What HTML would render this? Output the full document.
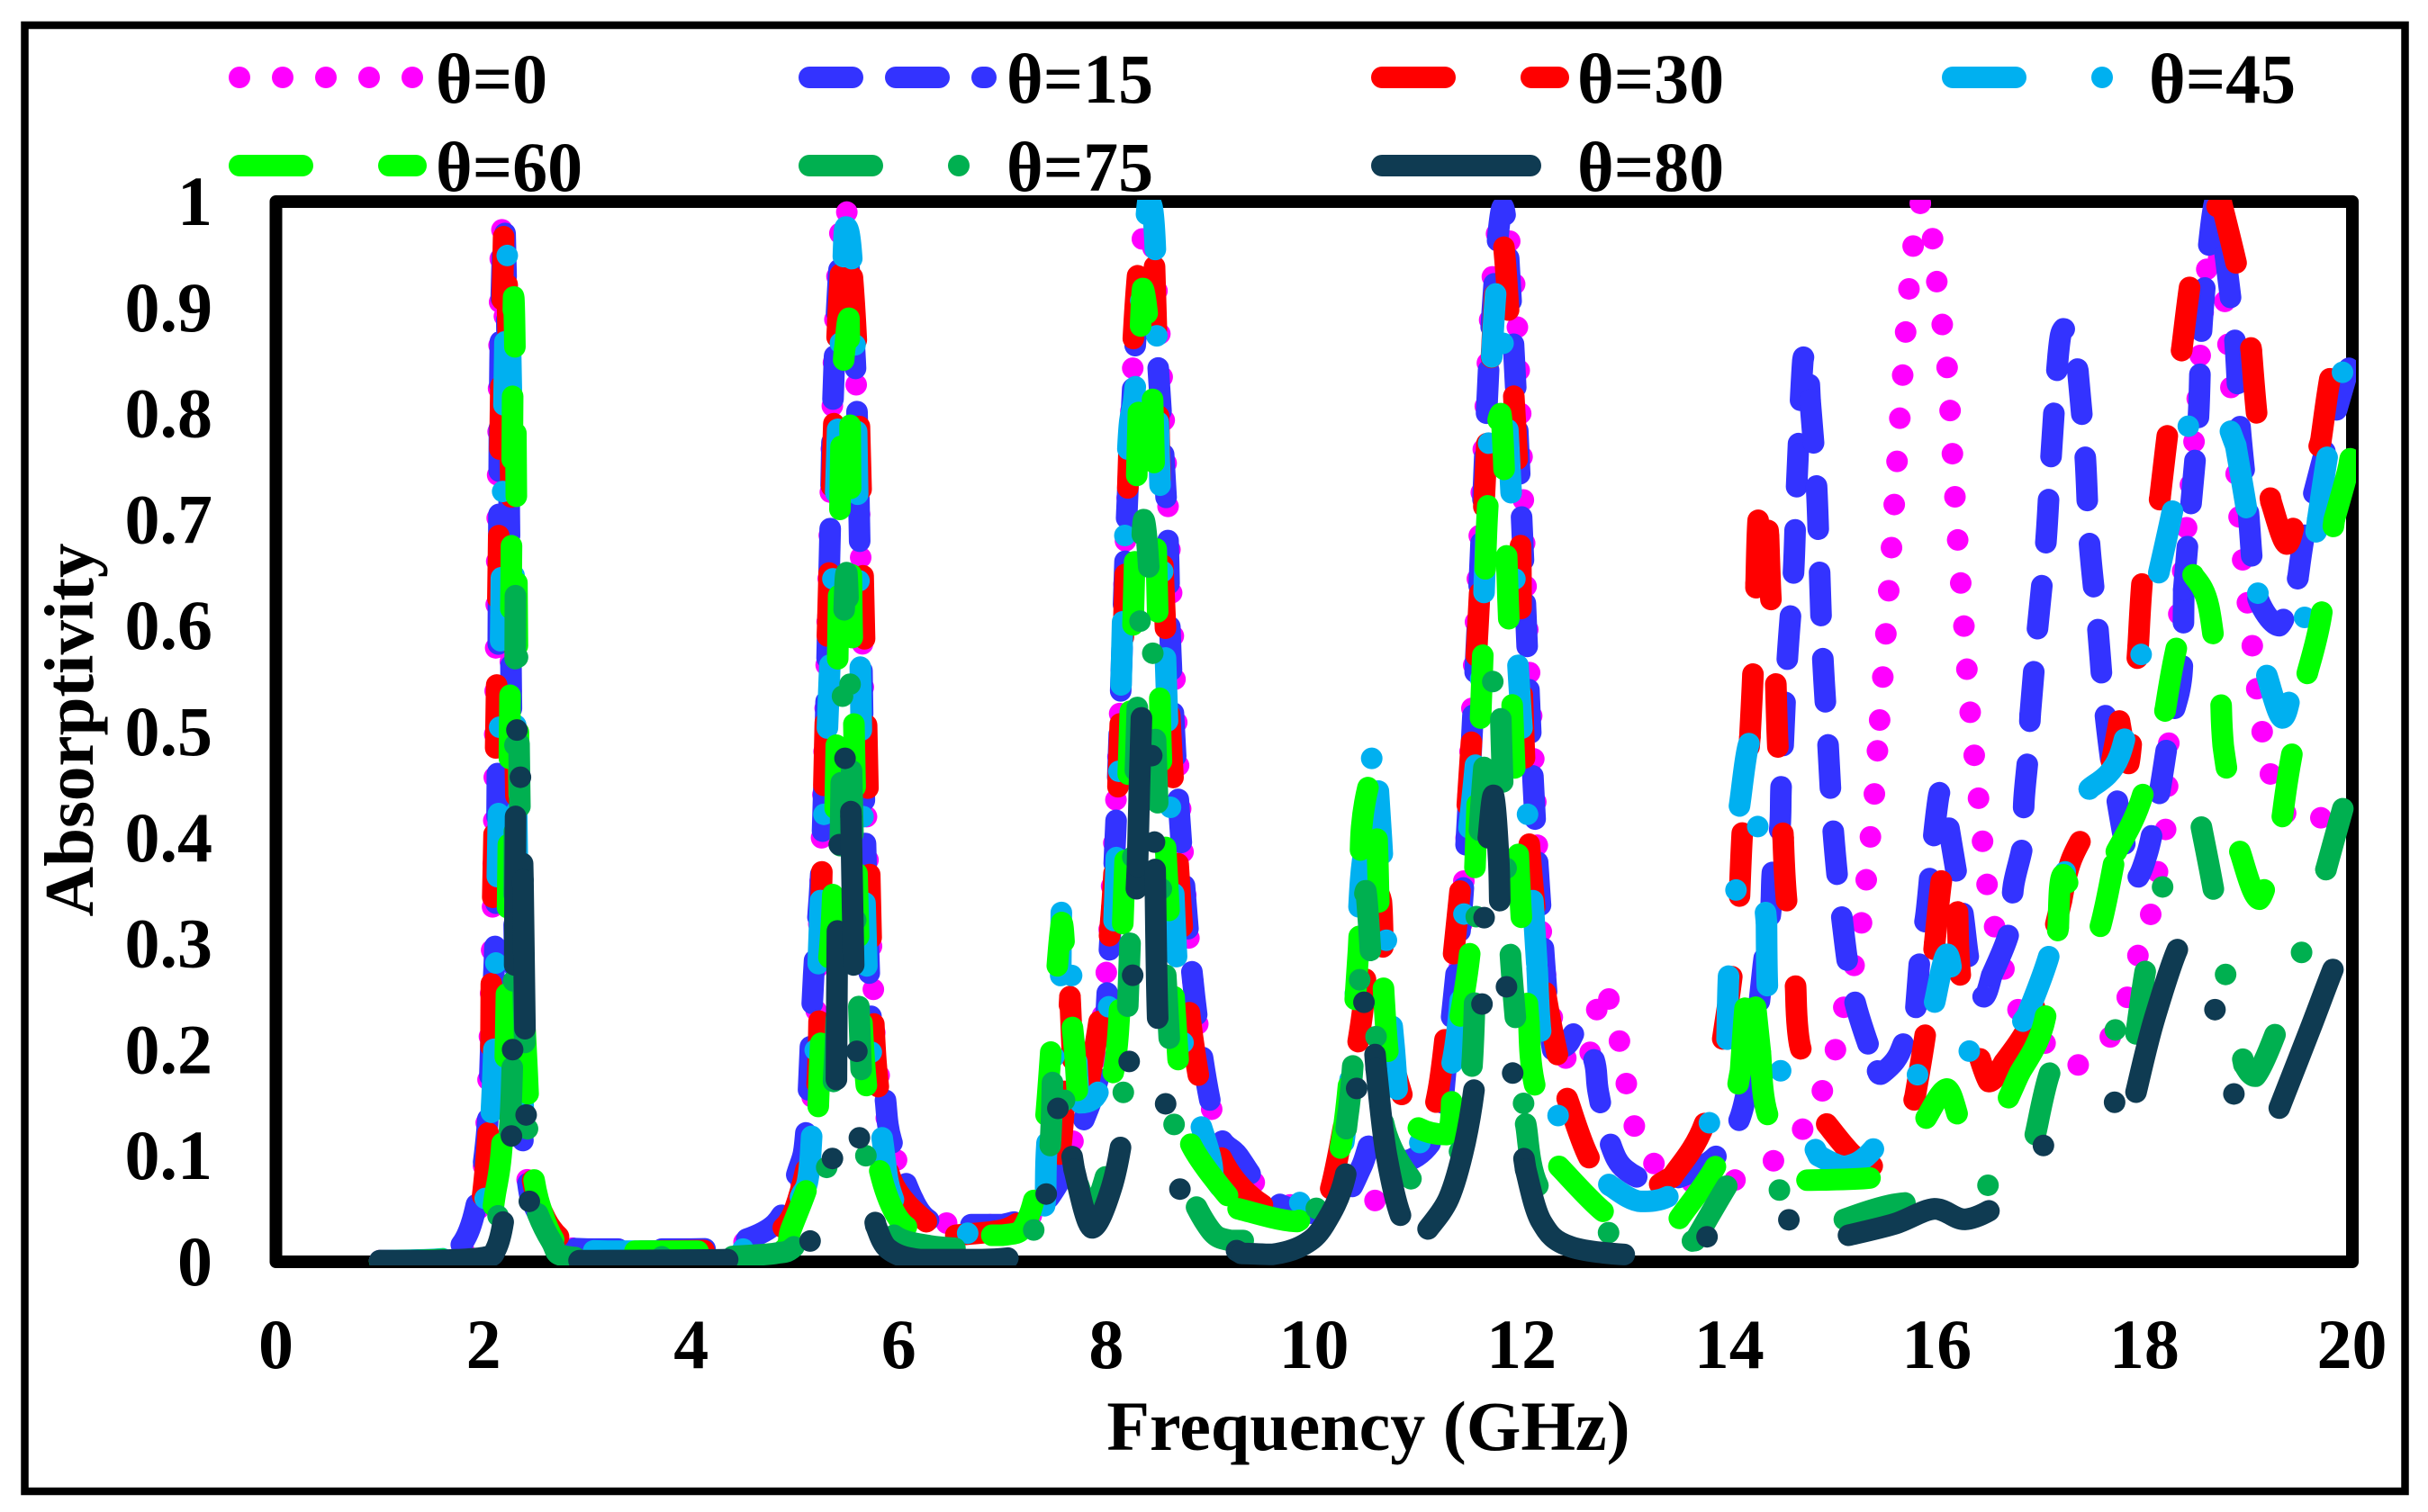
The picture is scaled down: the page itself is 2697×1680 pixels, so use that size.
<!DOCTYPE html>
<html lang="en">
<head>
<meta charset="utf-8">
<title>Absorptivity vs Frequency</title>
<style>
html,body{margin:0;padding:0;background:#fff;}
body{width:2697px;height:1680px;overflow:hidden;}
svg{display:block;}
text{font-family:"Liberation Serif",serif;font-weight:bold;fill:#000;font-size:78px;}
</style>
</head>
<body>
<svg id="chart" xmlns="http://www.w3.org/2000/svg" width="2697" height="1680" viewBox="0 0 2697 1680">
<rect x="0" y="0" width="2697" height="1680" fill="#fff"/>
<rect x="27.5" y="28" width="2644" height="1629" fill="none" stroke="#000" stroke-width="8.5"/>
<rect x="306.5" y="224" width="2306.5" height="1178" fill="none" stroke="#000" stroke-width="14" stroke-linejoin="round"/>
<defs><clipPath id="plot-clip"><rect x="299" y="222" width="2318" height="1184"/></clipPath></defs>
<text x="1520" y="1611" text-anchor="middle">Frequency (GHz)</text>
<text transform="translate(103,811) rotate(-90)" text-anchor="middle" style="font-size:77px">Absorptivity</text>
<g id="ticks"></g>
<g id="series" clip-path="url(#plot-clip)"></g>
<g id="legend"></g>
</svg>
<script>
const xTickLabels = ["0","2","4","6","8","10","12","14","16","18","20"];
const yTickLabels = ["0","0.1","0.2","0.3","0.4","0.5","0.6","0.7","0.8","0.9","1"];
const seriesNames = ["θ=0","θ=15","θ=30","θ=45","θ=60","θ=75","θ=80"];

const theta0 = [[1,.001],[1.6,.003],[1.85,.02],[2.0,.09],[2.08,.3],[2.12,.6],[2.17,.98],[2.22,.8],[2.27,.5],[2.33,.2],[2.4,.09],[2.55,.04],[2.8,.015],[3.2,.01],[4.1,.01],[4.5,.018],[4.85,.04],[5.13,.114],[5.25,.38],[5.33,.68],[5.39,.9],[5.48,1.0],[5.57,.88],[5.63,.68],[5.68,.45],[5.75,.27],[5.8,.184],[6.0,.09],[6.34,.038],[7,.035],[7.4,.055],[7.7,.12],[7.95,.22],[8.1,.45],[8.2,.72],[8.3,.92],[8.4,.98],[8.5,.9],[8.6,.7],[8.72,.42],[8.85,.25],[9.05,.13],[9.3,.09],[9.6,.06],[10,.05],[10.3,.05],[10.61,.059],[10.95,.087],[11.32,.205],[11.45,.37],[11.6,.7],[11.72,.93],[11.82,.985],[11.95,.9],[12.05,.62],[12.13,.45],[12.2,.3],[12.36,.206],[12.6,.18],[12.7,.222],[12.78,.262],[12.93,.214],[13,.174],[13.07,.134],[13.22,.098],[13.6,.075],[13.97,.075],[14.35,.09],[14.65,.117],[14.86,.153],[15,.19],[15.08,.23],[15.18,.269],[15.26,.309],[15.31,.35],[15.35,.39],[15.39,.43],[15.42,.47],[15.45,.511],[15.51,.592],[15.59,.713],[15.67,.834],[15.73,.915],[15.77,.956],[15.83,.995],[15.87,1],[15.96,.965],[16,.925],[16.1,.844],[16.15,.764],[16.2,.683],[16.26,.602],[16.32,.521],[16.4,.44],[16.48,.36],[16.55,.32],[16.64,.279],[16.76,.242],[16.95,.218],[17.28,.184],[17.6,.203],[17.8,.238],[17.9,.278],[18.04,.317],[18.1,.356],[18.19,.395],[18.22,.436],[18.25,.517],[18.47,.763],[18.6,.935],[18.68,.96],[18.77,.91],[18.8,.874],[18.85,.8],[18.9,.72],[18.95,.66],[19.03,.59],[19.12,.51],[19.2,.47],[19.28,.433],[19.59,.41],[19.86,.44],[20,.44]];
const theta15 = [[1,.001],[1.5,.002],[1.75,.012],[1.91,.045],[2.03,.12],[2.08,.23],[2.12,.336],[2.14,.55],[2.16,.85],[2.2,.98],[2.23,.85],[2.26,.6],[2.29,.35],[2.33,.18],[2.42,.08],[2.5,.05],[2.72,.018],[3,.012],[4,.012],[4.29,.014],[4.81,.036],[5.03,.086],[5.11,.127],[5.18,.27],[5.26,.39],[5.33,.65],[5.38,.85],[5.47,.97],[5.58,.85],[5.63,.65],[5.67,.43],[5.75,.2],[5.86,.16],[5.93,.114],[6.2,.048],[6.5,.035],[7,.035],[7.35,.05],[7.6,.085],[7.72,.118],[7.95,.186],[8.03,.295],[8.1,.43],[8.21,.735],[8.33,.93],[8.43,.93],[8.58,.713],[8.62,.576],[8.7,.427],[8.85,.25],[9.05,.13],[9.27,.1],[9.5,.068],[9.72,.052],[10.09,.045],[10.3,.06],[10.46,.09],[10.6,.12],[10.87,.095],[11.18,.122],[11.28,.19],[11.43,.34],[11.55,.55],[11.62,.7],[11.7,.87],[11.82,.995],[11.92,.87],[12.03,.636],[12.1,.477],[12.18,.34],[12.3,.2],[12.44,.205],[12.55,.22],[12.7,.19],[12.74,.16],[12.85,.113],[13,.087],[13.33,.075],[13.82,.095],[14.08,.13],[14.18,.165],[14.24,.2],[14.33,.28],[14.4,.33],[14.42,.37],[14.49,.41],[14.5,.445],[14.52,.487],[14.56,.568],[14.62,.65],[14.65,.73],[14.71,.85],[14.75,.86],[14.78,.813],[14.84,.735],[14.87,.655],[14.9,.574],[14.95,.493],[15,.41],[15.08,.33],[15.2,.25],[15.43,.18],[15.46,.177],[15.6,.19],[15.68,.206],[15.8,.24],[15.85,.3],[15.9,.33],[15.97,.4],[16.02,.44],[16.05,.445],[16.15,.39],[16.25,.33],[16.32,.28],[16.45,.25],[16.53,.27],[16.7,.312],[16.74,.355],[16.83,.395],[16.84,.435],[16.88,.478],[16.9,.516],[16.97,.596],[17.05,.677],[17.1,.757],[17.17,.855],[17.22,.88],[17.3,.87],[17.36,.84],[17.43,.76],[17.47,.68],[17.55,.6],[17.62,.52],[17.73,.44],[17.9,.36],[18.03,.386],[18.14,.439],[18.25,.505],[18.36,.553],[18.38,.634],[18.45,.715],[18.52,.795],[18.55,.876],[18.62,.958],[18.68,1],[18.74,1],[18.78,.95],[18.87,.873],[18.92,.79],[19,.71],[19.05,.65],[19.12,.62],[19.3,.6],[19.48,.645],[19.55,.69],[19.7,.75],[19.93,.83],[20,.85]];
const theta30 = [[1,.001],[1.6,.002],[1.9,.015],[2.05,.13],[2.08,.3],[2.12,.5],[2.2,.985],[2.26,.75],[2.31,.45],[2.36,.2],[2.45,.09],[2.6,.04],[2.85,.015],[3.2,.01],[4.5,.012],[4.74,.023],[5,.05],[5.2,.15],[5.25,.33],[5.33,.65],[5.42,.9],[5.5,.97],[5.6,.85],[5.68,.55],[5.75,.25],[5.82,.15],[5.93,.077],[6.3,.035],[6.55,.025],[7,.03],[7.2,.04],[7.35,.05],[7.55,.1],[7.65,.25],[7.72,.14],[7.87,.19],[8.05,.33],[8.15,.55],[8.25,.85],[8.35,.97],[8.45,.97],[8.55,.644],[8.7,.363],[8.84,.205],[9.08,.104],[9.5,.054],[10,.045],[10.17,.072],[10.43,.21],[10.5,.27],[10.57,.35],[10.65,.34],[10.69,.23],[10.84,.16],[11.03,.118],[11.2,.163],[11.35,.295],[11.47,.42],[11.58,.6],[11.7,.835],[11.8,.975],[11.92,.825],[11.99,.68],[12,.56],[12.07,.4],[12.22,.26],[12.44,.154],[12.7,.09],[13.1,.065],[13.45,.08],[13.78,.135],[14,.25],[14.1,.345],[14.13,.41],[14.2,.495],[14.23,.555],[14.26,.64],[14.28,.7],[14.33,.735],[14.38,.684],[14.4,.63],[14.45,.545],[14.47,.485],[14.52,.4],[14.55,.345],[14.64,.26],[14.68,.205],[14.94,.13],[15.2,.1],[15.42,.09],[15.6,.1],[15.79,.155],[15.9,.222],[15.98,.3],[16.05,.363],[16.1,.37],[16.2,.33],[16.24,.26],[16.5,.17],[16.65,.188],[16.87,.22],[17,.26],[17.2,.34],[17.3,.38],[17.6,.44],[17.76,.51],[17.85,.47],[17.94,.58],[18,.66],[18.15,.72],[18.25,.8],[18.36,.86],[18.47,.94],[18.6,.98],[18.74,1],[18.92,.926],[19.03,.86],[19.1,.785],[19.22,.717],[19.37,.677],[19.48,.708],[19.7,.774],[19.82,.847],[19.95,.85],[20,.85]];
const theta45 = [[1,.001],[1.7,.004],[1.95,.02],[2.08,.15],[2.14,.4],[2.18,.7],[2.23,.95],[2.28,.75],[2.33,.35],[2.38,.15],[2.45,.085],[2.6,.04],[2.85,.015],[3.2,.01],[4.5,.012],[4.9,.025],[5.05,.06],[5.15,.1],[5.25,.35],[5.35,.6],[5.45,.9],[5.49,.976],[5.57,.9],[5.65,.45],[5.72,.22],[5.85,.11],[5.93,.064],[6.1,.04],[6.6,.027],[7,.03],[7.4,.05],[7.43,.114],[7.56,.27],[7.57,.34],[7.6,.33],[7.69,.243],[7.75,.15],[7.92,.16],[8.03,.25],[8.1,.39],[8.2,.75],[8.28,.827],[8.4,1],[8.47,.96],[8.51,.758],[8.66,.323],[8.77,.186],[9,.1],[9.05,.077],[9.35,.054],[10.07,.06],[10.25,.09],[10.37,.2],[10.45,.36],[10.54,.42],[10.57,.5],[10.65,.4],[10.7,.3],[10.77,.205],[10.9,.1],[11.25,.16],[11.4,.236],[11.47,.38],[11.58,.5],[11.66,.69],[11.7,.827],[11.77,.93],[11.82,.87],[11.92,.685],[11.96,.574],[12.04,.45],[12.15,.277],[12.2,.205],[12.38,.13],[12.6,.1],[12.85,.072],[13.15,.057],[13.52,.07],[13.82,.134],[13.98,.21],[14,.28],[14.07,.356],[14.1,.43],[14.2,.49],[14.29,.393],[14.36,.32],[14.37,.255],[14.52,.172],[14.86,.1],[15.12,.09],[15.42,.11],[15.83,.18],[15.98,.245],[16.1,.29],[16.2,.245],[16.42,.182],[16.87,.232],[17.1,.295],[17.25,.373],[17.47,.446],[17.76,.477],[17.97,.573],[18.14,.65],[18.29,.717],[18.43,.79],[18.65,.82],[18.88,.77],[19,.7],[19.1,.626],[19.18,.553],[19.33,.513],[19.44,.55],[19.57,.624],[19.67,.7],[19.78,.77],[19.92,.844],[20,.87]];
const theta60 = [[1,.0005],[1.9,.006],[2.12,.068],[2.2,.16],[2.24,.4],[2.27,.68],[2.29,.91],[2.31,.8],[2.33,.55],[2.37,.3],[2.42,.18],[2.47,.09],[2.57,.045],[2.72,.015],[2.9,.01],[4.5,.01],[4.9,.012],[4.96,.03],[5.11,.068],[5.2,.1],[5.26,.227],[5.37,.36],[5.45,.8],[5.49,.87],[5.52,.89],[5.54,.68],[5.55,.6],[5.63,.26],[5.75,.12],[5.97,.045],[6.3,.027],[7,.025],[7.24,.04],[7.39,.11],[7.5,.245],[7.57,.32],[7.61,.28],[7.69,.205],[7.76,.136],[7.95,.15],[8.1,.2],[8.17,.35],[8.25,.576],[8.3,.767],[8.35,.918],[8.43,.85],[8.47,.713],[8.51,.553],[8.55,.43],[8.7,.18],[8.8,.114],[9.27,.05],[9.84,.038],[10.24,.1],[10.43,.295],[10.46,.41],[10.58,.463],[10.61,.395],[10.65,.29],[10.8,.15],[11.28,.12],[11.35,.195],[11.51,.3],[11.58,.45],[11.63,.58],[11.68,.72],[11.8,.8],[11.87,.625],[11.92,.5],[11.99,.34],[12.07,.226],[12.12,.17],[12.36,.09],[12.82,.045],[13.2,.03],[13.52,.041],[13.93,.102],[14.11,.18],[14.15,.235],[14.2,.28],[14.3,.198],[14.38,.136],[14.75,.077],[15.42,.08],[15.7,.1],[15.9,.136],[16.1,.163],[16.27,.122],[16.5,.12],[16.8,.178],[17.03,.224],[17.17,.315],[17.22,.365],[17.5,.3],[17.73,.387],[17.96,.433],[18.2,.52],[18.29,.57],[18.47,.648],[18.62,.618],[18.74,.525],[18.76,.487],[18.92,.387],[19.11,.342],[19.33,.42],[19.4,.467],[19.57,.555],[19.7,.607],[19.83,.7],[19.96,.746],[20,.77]];
const theta75 = [[1,.0005],[2,.005],[2.15,.05],[2.27,.16],[2.3,.45],[2.31,.64],[2.34,.5],[2.37,.3],[2.42,.14],[2.44,.072],[2.65,.02],[2.87,.004],[4,.005],[4.4,.005],[4.81,.008],[5,.015],[5.28,.078],[5.36,.15],[5.42,.3],[5.47,.6],[5.5,.65],[5.53,.55],[5.56,.4],[5.62,.23],[5.65,.16],[5.71,.08],[5.9,.03],[6.3,.015],[7,.012],[7.3,.03],[7.45,.1],[7.49,.186],[7.55,.2],[7.66,.1],[7.87,.05],[8.14,.145],[8.21,.25],[8.32,.59],[8.36,.7],[8.43,.617],[8.51,.395],[8.63,.172],[8.7,.095],[8.96,.036],[9.2,.02],[9.75,.022],[10.2,.08],[10.33,.14],[10.4,.218],[10.46,.29],[10.5,.35],[10.58,.243],[10.7,.12],[11.19,.06],[11.5,.16],[11.58,.38],[11.67,.5],[11.77,.57],[11.82,.45],[11.88,.31],[11.96,.209],[12.04,.13],[12.2,.065],[12.85,.027],[13.3,.015],[13.67,.02],[14,.075],[14.18,.1],[14.37,.074],[15.11,.04],[15.58,.054],[16.38,.065],[16.95,.12],[17.12,.186],[17.41,.215],[17.6,.22],[17.92,.215],[18.03,.286],[18.2,.36],[18.55,.41],[18.68,.343],[18.79,.267],[18.96,.186],[19.07,.175],[19.3,.225],[19.54,.3],[19.75,.37],[19.95,.44],[20,.45]];
const theta80 = [[1,.001],[1.5,.001],[2,.004],[2.12,.012],[2.2,.045],[2.27,.12],[2.28,.2],[2.3,.28],[2.31,.427],[2.33,.52],[2.36,.443],[2.38,.36],[2.4,.215],[2.41,.14],[2.44,.058],[2.6,.02],[2.92,.001],[4.33,.002],[4.8,.005],[5.15,.02],[5.28,.055],[5.36,.096],[5.4,.172],[5.41,.32],[5.43,.4],[5.49,.483],[5.52,.49],[5.54,.42],[5.57,.263],[5.6,.19],[5.63,.108],[5.78,.034],[5.9,.012],[6.2,.002],[6.8,.002],[7.1,.004],[7.28,.007],[7.46,.085],[7.56,.162],[7.62,.13],[7.69,.087],[7.86,.032],[8.05,.07],[8.17,.13],[8.23,.206],[8.26,.287],[8.3,.373],[8.34,.517],[8.38,.535],[8.41,.528],[8.45,.447],[8.47,.37],[8.5,.218],[8.58,.143],[8.72,.065],[8.95,.03],[9.3,.008],[9.6,.007],[9.9,.016],[10.1,.035],[10.3,.08],[10.41,.162],[10.48,.243],[10.53,.26],[10.6,.182],[10.7,.1],[10.87,.036],[11.1,.031],[11.3,.06],[11.45,.11],[11.55,.168],[11.62,.245],[11.64,.326],[11.68,.4],[11.73,.44],[11.78,.38],[11.8,.318],[11.87,.243],[11.93,.162],[12.04,.087],[12.19,.038],[12.48,.014],[13.22,.006],[13.6,.015],[13.93,.03],[14.4,.044],[14.8,.03],[15.15,.025],[15.6,.036],[15.98,.05],[16.27,.04],[16.6,.054],[16.85,.08],[17.07,.115],[17.42,.144],[17.7,.15],[17.92,.16],[18.1,.23],[18.36,.302],[18.5,.28],[18.68,.238],[18.86,.159],[19.1,.13],[19.3,.145],[19.6,.22],[19.86,.286],[20,.31]];

const restarts0 = [15.45,15.96];
const restarts15 = [14.18,14.52,14.78,15.43,15.8,16.53,16.9,17.36,18.38,18.78,19.48];
const restarts30 = [6.55,7.65,12.44,13.45,14.1,14.2,14.26,14.38,14.45,14.52,14.64,14.94,15.79,15.98,16.2,16.65,17.2,17.76,17.94,18.15,18.36,18.74,19.03,19.22,19.7];
const restarts45 = [7.56,12.15,12.85,13.98,14.1,14.36,14.86,15.98,16.87,17.47,18.14,18.88,19.18,19.67];
const restarts60 = [9.27,12.07,12.36,13.52,14.11,14.3,14.75,15.9,16.8,17.17,17.73,18.2,18.47,18.74,18.92,19.33,19.57,19.83];
const restarts75 = [4.4,12.04,13.67,15.11,16.95,17.92,18.55,18.96,19.75];
const restarts80 = [2.3,2.38,2.92,5.4,5.54,5.78,7.69,8.3,8.47,9.3,10.6,11.1,11.68,12.04,15.15,17.92,19.3];

const allSeries = [theta0,theta15,theta30,theta45,theta60,theta75,theta80];
const allRestarts = [restarts0,restarts15,restarts30,restarts45,restarts60,restarts75,restarts80];
const colors = ["#ff00ff","#3333ff","#ff0000","#00b0f0","#00ff00","#00b050","#0f3b52"];
const dashes = ["0 48","48 48","70 96","70 96 0 96","70 96","70 96 0 96","165 96 0 96 0 96"];

const SVGNS = "http://www.w3.org/2000/svg";
const STROKE = 24;
function xScale(f){ return 306.5 + 115.3 * f; }
function yScale(v){ return 1402 - 1178 * v; }
function clamp(v, a, b){ return Math.max(Math.min(a, b), Math.min(Math.max(a, b), v)); }
function smoothPath(piece){
  const pts = piece.map(function(p){ return [xScale(p[0]), yScale(p[1])]; });
  let d = 'M' + pts[0][0].toFixed(1) + ' ' + pts[0][1].toFixed(1);
  for (let k = 0; k < pts.length - 1; k++) {
    const p0 = pts[Math.max(k - 1, 0)];
    const p1 = pts[k];
    const p2 = pts[k + 1];
    const p3 = pts[Math.min(k + 2, pts.length - 1)];
    const c1x = clamp(p1[0] + (p2[0] - p0[0]) / 6, p1[0], p2[0]);
    const c1y = clamp(p1[1] + (p2[1] - p0[1]) / 6, p1[1], p2[1]);
    const c2x = clamp(p2[0] - (p3[0] - p1[0]) / 6, p1[0], p2[0]);
    const c2y = clamp(p2[1] - (p3[1] - p1[1]) / 6, p1[1], p2[1]);
    d += ' C' + c1x.toFixed(1) + ' ' + c1y.toFixed(1) + ' ' + c2x.toFixed(1) + ' ' + c2y.toFixed(1) + ' ' + p2[0].toFixed(1) + ' ' + p2[1].toFixed(1);
  }
  return d;
}

const ticksGroup = document.getElementById('ticks');
xTickLabels.forEach(function(label){
  const t = document.createElementNS(SVGNS,'text');
  
  
  t.setAttribute('x', xScale(parseFloat(label)));
  t.setAttribute('y', 1520);
  t.setAttribute('text-anchor', 'middle');
  t.textContent = label;
  ticksGroup.appendChild(t);
});
yTickLabels.forEach(function(label){
  const t = document.createElementNS(SVGNS,'text');
  
  
  t.setAttribute('x', 236);
  t.setAttribute('y', yScale(parseFloat(label)) + 26);
  t.setAttribute('text-anchor', 'end');
  t.textContent = label;
  ticksGroup.appendChild(t);
});

const seriesGroup = document.getElementById('series');
allSeries.forEach(function(points, i){
  const g = document.createElementNS(SVGNS,'g');
  
  
  const breaks = allRestarts[i];
  const pieces = [];
  let current = [];
  let b = 0;
  points.forEach(function(p){
    current.push(p);
    if (b < breaks.length && p[0] >= breaks[b]) {
      pieces.push(current);
      current = [p];
      while (b < breaks.length && p[0] >= breaks[b]) { b++; }
    }
  });
  if (current.length > 1) { pieces.push(current); }
  pieces.forEach(function(piece){
    const path = document.createElementNS(SVGNS,'path');
    
    
    path.setAttribute('d', smoothPath(piece));
    path.setAttribute('fill', 'none');
    path.setAttribute('stroke', colors[i]);
    path.setAttribute('stroke-width', STROKE);
    path.setAttribute('stroke-linecap', 'round');
    path.setAttribute('stroke-linejoin', 'round');
    path.setAttribute('stroke-dasharray', dashes[i]);
    g.appendChild(path);
  });
  seriesGroup.appendChild(g);
});

const legendGroup = document.getElementById('legend');
const legendCols = [266, 899, 1535, 2169];
const legendTextCols = [484, 1118, 1752, 2387];
const legendRows = [86, 184];
seriesNames.forEach(function(name, i){
  const col = i < 4 ? i : i - 4;
  const row = i < 4 ? 0 : 1;
  const g = document.createElementNS(SVGNS,'g');
  
  
  const line = document.createElementNS(SVGNS,'line');
  
  
  line.setAttribute('x1', legendCols[col]);
  line.setAttribute('x2', legendCols[col] + 196);
  line.setAttribute('y1', legendRows[row]);
  line.setAttribute('y2', legendRows[row]);
  line.setAttribute('stroke', colors[i]);
  line.setAttribute('stroke-width', STROKE);
  line.setAttribute('stroke-linecap', 'round');
  line.setAttribute('stroke-dasharray', dashes[i]);
  g.appendChild(line);
  const t = document.createElementNS(SVGNS,'text');
  
  
  t.setAttribute('x', legendTextCols[col]);
  t.setAttribute('y', legendRows[row] + 28);
  t.textContent = name;
  g.appendChild(t);
  legendGroup.appendChild(g);
});
</script>
</body>
</html>
